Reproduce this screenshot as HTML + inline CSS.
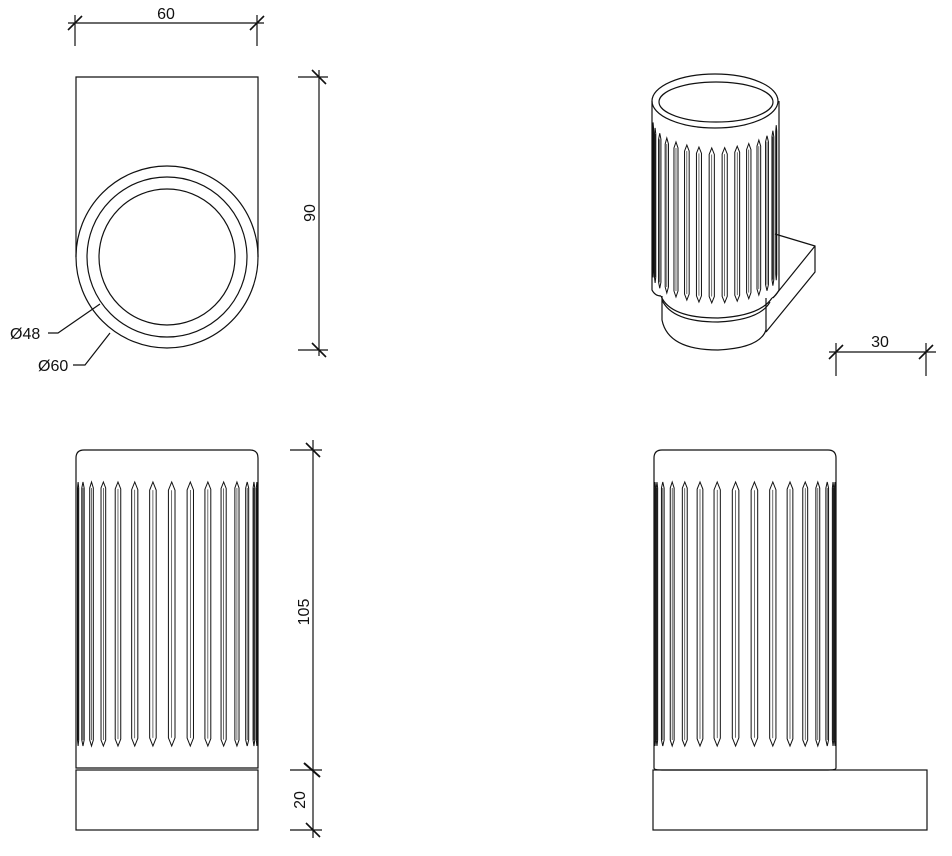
<!DOCTYPE html>
<html><head><meta charset="utf-8"><style>
html,body{margin:0;padding:0;background:#fff}
svg{display:block}
text{font-family:"Liberation Sans",sans-serif;font-size:16px;fill:#111}
</style></head><body>
<svg id="s" width="952" height="856" viewBox="0 0 952 856" xmlns="http://www.w3.org/2000/svg" fill="none" stroke="#111" stroke-width="1.2">
<!-- top view -->
<path d="M76 257 V77 H258 V257"/>
<circle cx="167" cy="257" r="91"/>
<circle cx="167" cy="257" r="80"/>
<circle cx="167" cy="257" r="68"/>
<!-- dims 60 -->
<line x1="68" y1="23" x2="264" y2="23"/>
<line x1="75" y1="15" x2="75" y2="46"/><line x1="257" y1="15" x2="257" y2="46"/>
<line x1="68" y1="30" x2="82" y2="16" stroke-width="1.6"/><line x1="250" y1="30" x2="264" y2="16" stroke-width="1.6"/>
<text x="166" y="19" text-anchor="middle" stroke="none">60</text>
<!-- 90 -->
<line x1="319" y1="70" x2="319" y2="356"/>
<line x1="298" y1="77" x2="328" y2="77"/><line x1="298" y1="350" x2="328" y2="350"/>
<line x1="312" y1="70" x2="326" y2="84" stroke-width="1.6"/><line x1="312" y1="343" x2="326" y2="357" stroke-width="1.6"/>
<text transform="translate(315,213) rotate(-90)" text-anchor="middle" stroke="none">90</text>
<!-- diameter labels -->
<text x="10" y="339" stroke="none">Ø48</text>
<path d="M48 333 H58 L100 304"/>
<text x="38" y="371" stroke="none">Ø60</text>
<path d="M73 365 H85 L110 333"/>
<!-- 105 / 20 -->
<line x1="313" y1="440" x2="313" y2="838"/>
<line x1="290" y1="450" x2="322" y2="450"/><line x1="290" y1="770" x2="322" y2="770"/><line x1="290" y1="830" x2="322" y2="830"/>
<line x1="306" y1="443" x2="320" y2="457" stroke-width="1.6"/><line x1="304" y1="763" x2="320" y2="777" stroke-width="2"/><line x1="306" y1="823" x2="320" y2="837" stroke-width="1.6"/>
<text transform="translate(309,612) rotate(-90)" text-anchor="middle" stroke="none">105</text>
<text transform="translate(305,800) rotate(-90)" text-anchor="middle" stroke="none">20</text>
<!-- front view -->
<path d="M76 768 V458 Q76 450 84 450 H250 Q258 450 258 458 V768 Z"/>
<rect x="76" y="770" width="182" height="60"/>
<!-- side view -->
<path d="M654 768 V458 Q654 450 662 450 H828 Q836 450 836 458 V768 Q836 770 828 770 H662 Q654 770 654 768 Z"/>
<rect x="653" y="770" width="274" height="60"/>
<!-- 30 dim -->
<line x1="829" y1="352" x2="936" y2="352"/>
<line x1="836" y1="343" x2="836" y2="376"/><line x1="926" y1="343" x2="926" y2="376"/>
<line x1="829" y1="359" x2="843" y2="345" stroke-width="1.6"/><line x1="919" y1="359" x2="933" y2="345" stroke-width="1.6"/>
<text x="880" y="347" text-anchor="middle" stroke="none">30</text>
<!-- iso -->
<path d="M775 234 L815 246 V272 L766 332"/>
<path d="M815 246 L773 298"/>
<line x1="766" y1="298" x2="766" y2="332"/>
<path d="M662 296 V320 Q668 350 718 350 Q760 348 766 330"/>
<path d="M661 296 Q670 318 718 318 Q760 316 772 298"/>
<path d="M662 300 Q672 322 718 322 Q760 320 770 302"/>
<path d="M652 101 V290 Q655 296 661 296"/>
<path d="M779 101 V290 Q776 296 772 298"/>
<ellipse cx="715" cy="101" rx="63" ry="27"/>
<ellipse cx="716" cy="102" rx="57" ry="20"/>
<g id="fl" stroke-width="1"></g>
</svg>
<script>
var g=document.getElementById('fl');var out='';
function f(n){return (Math.round(n*100)/100).toString();}
function flute(x,w,t,b){x=+x;w=+w;t=+t;b=+b;var s=Math.max(6,w*2.5);
out+='<path d="M'+f(x)+' '+f(t)+' L'+f(x-w)+' '+f(t+s)+' V'+f(b-s)+' L'+f(x)+' '+f(b)+' L'+f(x+w)+' '+f(b-s)+' V'+f(t+s)+' Z"/>';
out+='<line x1="'+f(x)+'" y1="'+f(t+s)+'" x2="'+f(x)+'" y2="'+f(b-s)+'" stroke-width="0.6"/>';}
function cyl(cx,r,t,b,off){for(var k=-8;k<=8;k++){var a=(k*12+off)*Math.PI/180;if(Math.abs(a)>Math.PI/2)continue;
var x=cx+r*Math.sin(a);var w=Math.max(0.6,3.3*Math.cos(a));flute(x,w,t,b);}}
cyl(167,90,482,746,3);
cyl(745,90,482,746,-6);
for(var k=-8;k<=8;k++){var a=(k*12-3)*Math.PI/180;if(Math.abs(a)>Math.PI/2)continue;
var x=715+62*Math.sin(a);var t=101+27*Math.cos(a)+20;var w=Math.max(0.5,2.6*Math.cos(a));
flute(x,w,t,t+155);}
g.innerHTML=out;
</script>
</body></html>
